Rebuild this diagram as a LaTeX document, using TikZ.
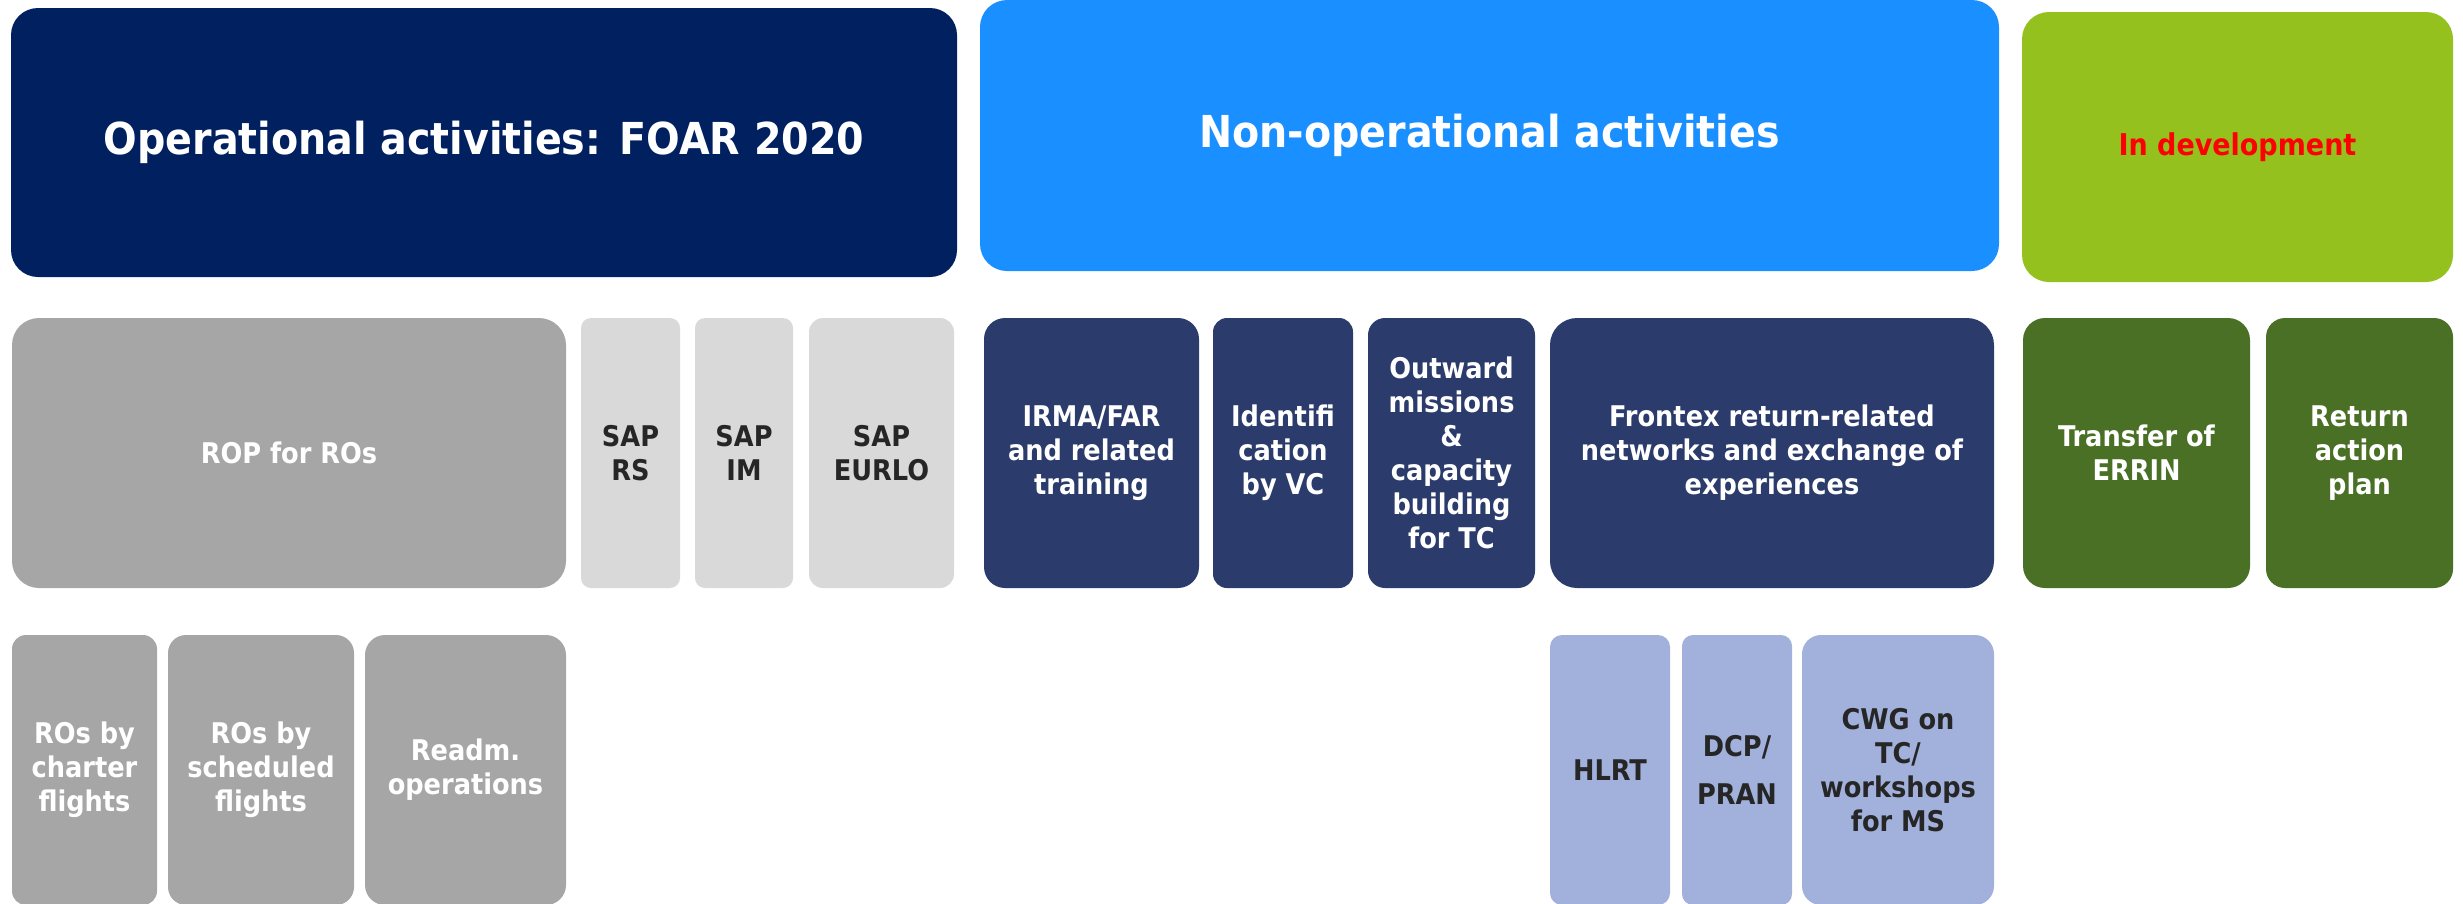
\documentclass[tikz,border=0pt]{standalone}
\usepackage{fontspec}
\setmainfont{DejaVu Sans Condensed}
\definecolor{navyA}{HTML}{002060}
\definecolor{blueB}{HTML}{1A8FFF}
\definecolor{limeC}{HTML}{95C11F}
\definecolor{grayM}{HTML}{A6A6A6}
\definecolor{grayL}{HTML}{D9D9D9}
\definecolor{navyN}{HTML}{2B3B6B}
\definecolor{greenD}{HTML}{4A7026}
\definecolor{blueL}{HTML}{A2B1DC}
\definecolor{txtD}{HTML}{262626}
\definecolor{redT}{HTML}{FF0000}
\tikzset{
  box/.style={draw=none, inner sep=0pt, align=center, font=\bfseries\fontsize{28.5}{34}\selectfont},
  head/.style={box, font=\bfseries\fontsize{44}{52}\selectfont},
}
\begin{document}
\begin{tikzpicture}[x=1pt,y=-1pt]
\useasboundingbox (0,0) rectangle (2463,903);
% header row
\node[head, fill=navyA, text=white, minimum width=946pt, minimum height=269pt, rounded corners=27pt] (opa) at (484,142.5) {Operational activities: FOAR 2020};
\node[head, fill=blueB, text=white, minimum width=1019pt, minimum height=271pt, rounded corners=27pt] (nop) at (1489.5,135.5) {Non-operational activities};
\node[box, font=\bfseries\fontsize{30}{36}\selectfont, fill=limeC, text=redT, minimum width=431pt, minimum height=270pt, rounded corners=27pt] (dev) at (2237.5,147) {In development};
% second row
\node[box, fill=grayM, text=white, minimum width=554pt, minimum height=270pt, rounded corners=27pt] (rop) at (289,453) {ROP for ROs};
\node[box, fill=grayL, text=txtD, minimum width=99pt, minimum height=270pt, rounded corners=10pt] (saprs) at (630.5,453) {SAP\\RS};
\node[box, fill=grayL, text=txtD, minimum width=98pt, minimum height=270pt, rounded corners=10pt] (sapim) at (744,453) {SAP\\IM};
\node[box, fill=grayL, text=txtD, minimum width=145pt, minimum height=270pt, rounded corners=14pt] (sapeu) at (881.5,453) {SAP\\EURLO};
\node[box, fill=navyN, text=white, minimum width=215pt, minimum height=270pt, rounded corners=21pt] (irma) at (1091.5,453) {IRMA/FAR\\and related\\training};
\node[box, fill=navyN, text=white, minimum width=140pt, minimum height=270pt, rounded corners=14pt] (ident) at (1283,453) {Identifi\\cation\\by VC};
\node[box, fill=navyN, text=white, minimum width=167pt, minimum height=270pt, rounded corners=17pt] (outw) at (1451.5,453) {Outward\\missions\\\&\\capacity\\building\\for TC};
\node[box, fill=navyN, text=white, minimum width=444pt, minimum height=270pt, rounded corners=27pt] (frx) at (1772,453) {Frontex return-related\\networks and exchange of\\experiences};
\node[box, fill=greenD, text=white, minimum width=227pt, minimum height=270pt, rounded corners=22pt] (errin) at (2136.5,453) {Transfer of\\ERRIN};
\node[box, fill=greenD, text=white, minimum width=187pt, minimum height=270pt, rounded corners=19pt] (rap) at (2359.5,453) {Return\\action\\plan};
% third row
\node[box, fill=grayM, text=white, minimum width=145pt, minimum height=270pt, rounded corners=14pt] (chart) at (84.5,770) {ROs by\\charter\\flights};
\node[box, fill=grayM, text=white, minimum width=186pt, minimum height=270pt, rounded corners=18pt] (sched) at (261,770) {ROs by\\scheduled\\flights};
\node[box, fill=grayM, text=white, minimum width=201pt, minimum height=270pt, rounded corners=20pt] (readm) at (465.5,770) {Readm.\\operations};
\node[box, fill=blueL, text=txtD, minimum width=120pt, minimum height=270pt, rounded corners=12pt] (hlrt) at (1610,770) {HLRT};
\node[box, fill=blueL, text=txtD, minimum width=110pt, minimum height=270pt, rounded corners=11pt] (dcp) at (1737,770) {DCP/\\[14pt]PRAN};
\node[box, fill=blueL, text=txtD, minimum width=192pt, minimum height=270pt, rounded corners=19pt] (cwg) at (1898,770) {CWG on\\TC/\\workshops\\for MS};
\end{tikzpicture}
\end{document}
